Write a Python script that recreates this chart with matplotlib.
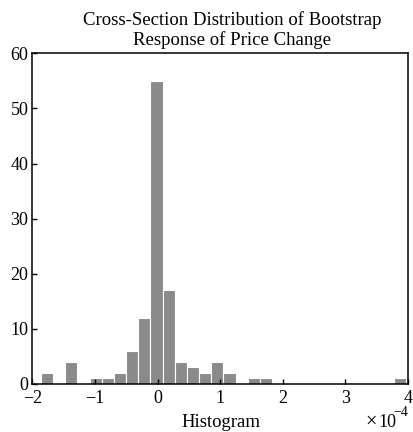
import numpy as np
import matplotlib
matplotlib.use("Agg")
import matplotlib.pyplot as plt

# Data (x in units of 1e-4)
x_min = -1.865
x_max = 3.964
counts = [2, 0, 4, 0, 1, 1, 2, 6, 12, 55,
          17, 4, 3, 2, 4, 2, 0, 1, 1, 0,
          0, 0, 0, 0, 0, 0, 0, 0, 0, 1]
x_ticks = [-2, -1, 0, 1, 2, 3, 4]
y_ticks = [0, 10, 20, 30, 40, 50, 60]
title = "Cross-Section Distribution of Bootstrap\nResponse of Price Change"
xlabel = "Histogram"

plt.rcParams['font.family'] = ['Liberation Serif', 'DejaVu Serif']

W, H = 414, 432
fig = plt.figure(figsize=(W / 100, H / 100), dpi=100)
ax = fig.add_axes([32.5 / W, (H - 384) / H, 375.5 / W, 330.7 / H])

edges = np.linspace(x_min, x_max, len(counts) + 1)
centers = (edges[:-1] + edges[1:]) / 2
width = edges[1] - edges[0]
ax.bar(centers, counts, width=width, color='#8a8a8a', edgecolor='white', linewidth=0.8)

ax.set_xlim(-2, 4)
ax.set_ylim(0, 60)
ax.set_xticks(x_ticks)
ax.set_yticks(y_ticks)
ax.set_xticklabels([str(t).replace('-', '\u2212') for t in x_ticks])
ax.tick_params(direction='in', length=3.5, width=1, labelsize=13, pad=4.5,
               top=False, right=False, colors='black')
ax.tick_params(axis='y', pad=3)
for s in ax.spines.values():
    s.set_linewidth(1.1)
    s.set_color('black')

ax.set_title(title, fontsize=13.5, x=0.531, pad=6, linespacing=1.15)

fig.text(221 / W, 5 / H, xlabel, ha='center', va='baseline', fontsize=13.5)
fig.text(365 / W, 5 / H, '\u00d7', ha='left', va='baseline', fontsize=14.5)
fig.text(378.5 / W, 5 / H, '10', ha='left', va='baseline', fontsize=13)
fig.text(393 / W, (H - 415.5) / H, '\u22124', ha='left', va='baseline', fontsize=10)

fig.savefig('out.png', dpi=100)
